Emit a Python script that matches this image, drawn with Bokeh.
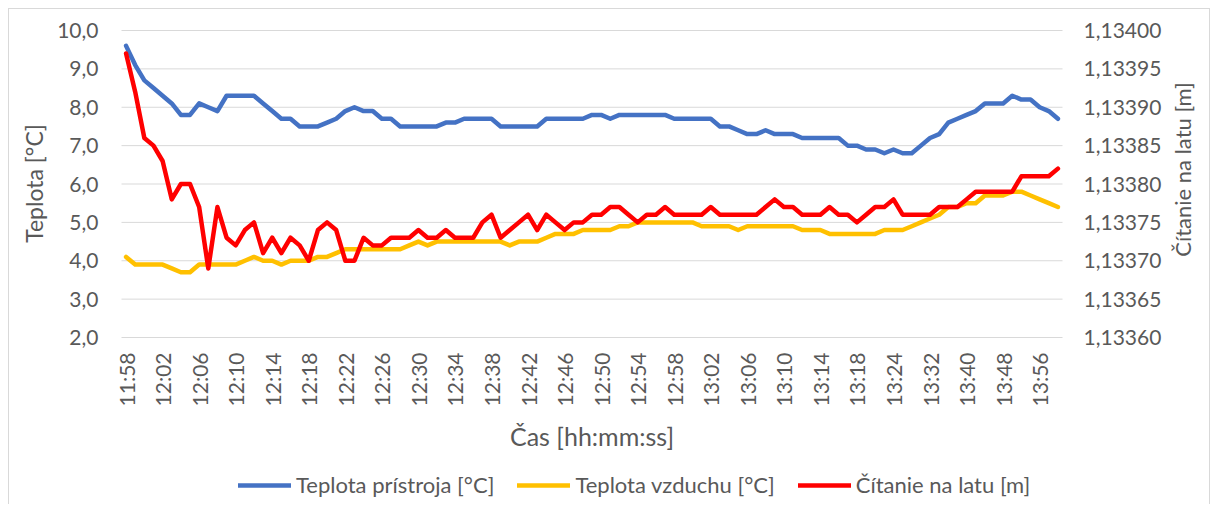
import math
from bokeh.plotting import figure
from bokeh.models import (Range1d, LinearAxis, FixedTicker, CustomJSTickFormatter,
                          Legend, LegendItem, ColumnDataSource, Label)
from bokeh.embed import file_html
from bokeh.resources import INLINE

# ---------------- data ----------------
times = [
    "11:58", "11:59",
    "12:00", "12:01", "12:02", "12:03", "12:04", "12:05", "12:06", "12:07", "12:08", "12:09",
    "12:10", "12:11", "12:12", "12:13", "12:14", "12:15", "12:16", "12:17", "12:18", "12:19",
    "12:20", "12:21", "12:22", "12:23", "12:24", "12:25", "12:26", "12:27", "12:28", "12:29",
    "12:30", "12:31", "12:32", "12:33", "12:34", "12:35", "12:36", "12:37", "12:38", "12:39",
    "12:40", "12:41", "12:42", "12:43", "12:44", "12:45", "12:46", "12:47", "12:48", "12:49",
    "12:50", "12:51", "12:52", "12:53", "12:54", "12:55", "12:56", "12:57", "12:58", "12:59",
    "13:00", "13:01", "13:02", "13:03", "13:04", "13:05", "13:06", "13:07", "13:08", "13:09",
    "13:10", "13:11", "13:12", "13:13", "13:14", "13:15", "13:16", "13:17", "13:18",
    "13:20", "13:21", "13:22",
    "13:24", "13:26", "13:28", "13:30", "13:32", "13:34", "13:36", "13:38", "13:40", "13:42",
    "13:44", "13:46", "13:48", "13:50", "13:52", "13:54", "13:56",
    "13:58", "14:00",
]

teplota_pristroja = [
    9.6, 9.1, 8.7, 8.5, 8.3, 8.1, 7.8, 7.8, 8.1, 8.0,
    7.9, 8.3, 8.3, 8.3, 8.3, 8.1, 7.9, 7.7, 7.7, 7.5,
    7.5, 7.5, 7.6, 7.7, 7.9, 8.0, 7.9, 7.9, 7.7, 7.7,
    7.5, 7.5, 7.5, 7.5, 7.5, 7.6, 7.6, 7.7, 7.7, 7.7,
    7.7, 7.5, 7.5, 7.5, 7.5, 7.5, 7.7, 7.7, 7.7, 7.7,
    7.7, 7.8, 7.8, 7.7, 7.8, 7.8, 7.8, 7.8, 7.8, 7.8,
    7.7, 7.7, 7.7, 7.7, 7.7, 7.5, 7.5, 7.4, 7.3, 7.3,
    7.4, 7.3, 7.3, 7.3, 7.2, 7.2, 7.2, 7.2, 7.2, 7.0,
    7.0, 6.9, 6.9, 6.8, 6.9, 6.8, 6.8, 7.0, 7.2, 7.3,
    7.6, 7.7, 7.8, 7.9, 8.1, 8.1, 8.1, 8.3, 8.2, 8.2,
    8.0, 7.9, 7.7,
]

teplota_vzduchu = [
    4.1, 3.9, 3.9, 3.9, 3.9, 3.8, 3.7, 3.7, 3.9, 3.9,
    3.9, 3.9, 3.9, 4.0, 4.1, 4.0, 4.0, 3.9, 4.0, 4.0,
    4.0, 4.1, 4.1, 4.2, 4.3, 4.3, 4.3, 4.3, 4.3, 4.3,
    4.3, 4.4, 4.5, 4.4, 4.5, 4.5, 4.5, 4.5, 4.5, 4.5,
    4.5, 4.5, 4.4, 4.5, 4.5, 4.5, 4.6, 4.7, 4.7, 4.7,
    4.8, 4.8, 4.8, 4.8, 4.9, 4.9, 5.0, 5.0, 5.0, 5.0,
    5.0, 5.0, 5.0, 4.9, 4.9, 4.9, 4.9, 4.8, 4.9, 4.9,
    4.9, 4.9, 4.9, 4.9, 4.8, 4.8, 4.8, 4.7, 4.7, 4.7,
    4.7, 4.7, 4.7, 4.8, 4.8, 4.8, 4.9, 5.0, 5.1, 5.2,
    5.4, 5.4, 5.5, 5.5, 5.7, 5.7, 5.7, 5.8, 5.8, 5.7,
    5.6, 5.5, 5.4,
]

citanie_na_latu = [
    1.13397, 1.13392, 1.13386, 1.13385, 1.13383, 1.13378, 1.13380, 1.13380, 1.13377, 1.13369,
    1.13377, 1.13373, 1.13372, 1.13374, 1.13375, 1.13371, 1.13373, 1.13371, 1.13373, 1.13372,
    1.13370, 1.13374, 1.13375, 1.13374, 1.13370, 1.13370, 1.13373, 1.13372, 1.13372, 1.13373,
    1.13373, 1.13373, 1.13374, 1.13373, 1.13373, 1.13374, 1.13373, 1.13373, 1.13373, 1.13375,
    1.13376, 1.13373, 1.13374, 1.13375, 1.13376, 1.13374, 1.13376, 1.13375, 1.13374, 1.13375,
    1.13375, 1.13376, 1.13376, 1.13377, 1.13377, 1.13376, 1.13375, 1.13376, 1.13376, 1.13377,
    1.13376, 1.13376, 1.13376, 1.13376, 1.13377, 1.13376, 1.13376, 1.13376, 1.13376, 1.13376,
    1.13377, 1.13378, 1.13377, 1.13377, 1.13376, 1.13376, 1.13376, 1.13377, 1.13376, 1.13376,
    1.13375, 1.13376, 1.13377, 1.13377, 1.13378, 1.13376, 1.13376, 1.13376, 1.13376, 1.13377,
    1.13377, 1.13377, 1.13378, 1.13379, 1.13379, 1.13379, 1.13379, 1.13379, 1.13381, 1.13381,
    1.13381, 1.13381, 1.13382,
]

left_ticks = [2, 3, 4, 5, 6, 7, 8, 9, 10]
right_ticks = [1.13360, 1.13365, 1.13370, 1.13375, 1.13380, 1.13385, 1.13390, 1.13395, 1.13400]
x_label_step = 4

series_names = ["Teplota prístroja [°C]", "Teplota vzduchu [°C]", "Čítanie na latu [m]"]
series_colors = ["#4472C4", "#FFC000", "#FF0000"]

x_title = "Čas [hh:mm:ss]"
y_title = "Teplota [°C]"
y2_title = "Čítanie na latu [m]"

# ---------------- layout (canvas pixels) ----------------
W, H = 1202, 496                 # whole canvas is the drawing frame
PX_L, PX_R = 112, 1053           # plot area left / right
PY_T, PY_B = 21, 328             # plot area top / bottom
FONT = "Lato"
TCOL = "#595959"
GRID = "#D9D9D9"

n = len(times)
xa0, xa1 = -0.5, n - 0.5
kx = (PX_R - PX_L) / (xa1 - xa0)
x_range = Range1d(xa0 - PX_L / kx, xa1 + (W - PX_R) / kx)

ya0, ya1 = left_ticks[0], left_ticks[-1]
ky = (PY_B - PY_T) / (ya1 - ya0)
yl0, yl1 = ya0 - (H - PY_B) / ky, ya1 + PY_T / ky
y_range = Range1d(yl0, yl1)

# secondary axis aligned with the primary one
r0, r1_ = right_ticks[0], right_ticks[-1]
def to_right(v):
    return r0 + (v - ya0) * (r1_ - r0) / (ya1 - ya0)

idx = list(range(n))
src = ColumnDataSource(dict(x=idx, t=times, a=teplota_pristroja, b=teplota_vzduchu, c=citanie_na_latu))

p = figure(width=W, height=H, output_backend="svg", toolbar_location=None,
           x_range=x_range, y_range=y_range, min_border=0,
           background_fill_color="white", border_fill_color="white")
p.outline_line_color = None
p.extra_y_ranges = {"lat": Range1d(to_right(yl0), to_right(yl1))}
p.xgrid.visible = False
p.ygrid.visible = False
p.styles = {"margin-left": "8px", "margin-top": "8px",
            "border-top": "1px solid #D9D9D9", "border-left": "1px solid #D9D9D9",
            "border-right": "1px solid #D9D9D9"}

def style_axis(ax):
    ax.axis_line_color = None
    ax.major_tick_line_color = None
    ax.minor_tick_line_color = None
    ax.major_tick_out = 0
    ax.major_tick_in = 0
    ax.major_label_text_font = FONT
    ax.major_label_text_font_size = "21px"
    ax.major_label_text_color = TCOL

# x axis (sits on the 2,0 line)
xa = p.xaxis[0]
xa.fixed_location = ya0
xa.ticker = FixedTicker(ticks=idx[::x_label_step])
xa.major_label_overrides = {i: times[i] for i in idx[::x_label_step]}
xa.major_label_orientation = math.pi / 2
style_axis(xa)
xa.major_label_standoff = 15

# left axis
ya = p.yaxis[0]
ya.fixed_location = xa0
ya.ticker = FixedTicker(ticks=left_ticks)
ya.formatter = CustomJSTickFormatter(code="return tick.toFixed(1).replace('.', ',');")
style_axis(ya)
ya.major_label_standoff = 23

# right axis
ra = LinearAxis(y_range_name="lat", fixed_location=xa1,
                ticker=FixedTicker(ticks=right_ticks),
                formatter=CustomJSTickFormatter(code="return tick.toFixed(5).replace('.', ',');"))
style_axis(ra)
ra.major_label_standoff = 21
p.add_layout(ra, "right")

# horizontal gridlines at the primary ticks, across the plot area
p.segment(x0=[xa0] * len(left_ticks), x1=[xa1] * len(left_ticks),
          y0=left_ticks, y1=left_ticks, line_color=GRID, line_width=1)

lw = 4.5
r1 = p.line("x", "a", source=src, line_color=series_colors[0], line_width=lw,
            line_join="round", line_cap="round")
r2 = p.line("x", "b", source=src, line_color=series_colors[1], line_width=lw,
            line_join="round", line_cap="round")
r3 = p.line("x", "c", source=src, line_color=series_colors[2], line_width=lw,
            line_join="round", line_cap="round", y_range_name="lat")

# axis titles
p.add_layout(Label(x=(PX_L + PX_R) / 2, y=H - 426, x_units="screen", y_units="screen",
                   text=x_title, text_font=FONT, text_font_size="25px", text_color=TCOL,
                   text_align="center", text_baseline="middle"))
p.add_layout(Label(x=24, y=H - 174, x_units="screen", y_units="screen", angle=math.pi / 2,
                   text=y_title, text_font=FONT, text_font_size="23px", text_color=TCOL,
                   text_align="center", text_baseline="middle"))
p.add_layout(Label(x=1173, y=H - 160, x_units="screen", y_units="screen", angle=math.pi / 2,
                   text=y2_title, text_font=FONT, text_font_size="22px", text_color=TCOL,
                   text_align="center", text_baseline="middle"))

legend = Legend(items=[LegendItem(label=series_names[0], renderers=[r1]),
                       LegendItem(label=series_names[1], renderers=[r2]),
                       LegendItem(label=series_names[2], renderers=[r3])],
                orientation="horizontal", location=(229, 7),
                spacing=23, glyph_width=53, glyph_height=26, label_height=26,
                label_standoff=5, padding=0, margin=0,
                border_line_color=None, background_fill_alpha=0,
                label_text_font=FONT, label_text_font_size="22px", label_text_color=TCOL)
p.add_layout(legend)

open("out.html", "w").write(file_html(p, INLINE))
